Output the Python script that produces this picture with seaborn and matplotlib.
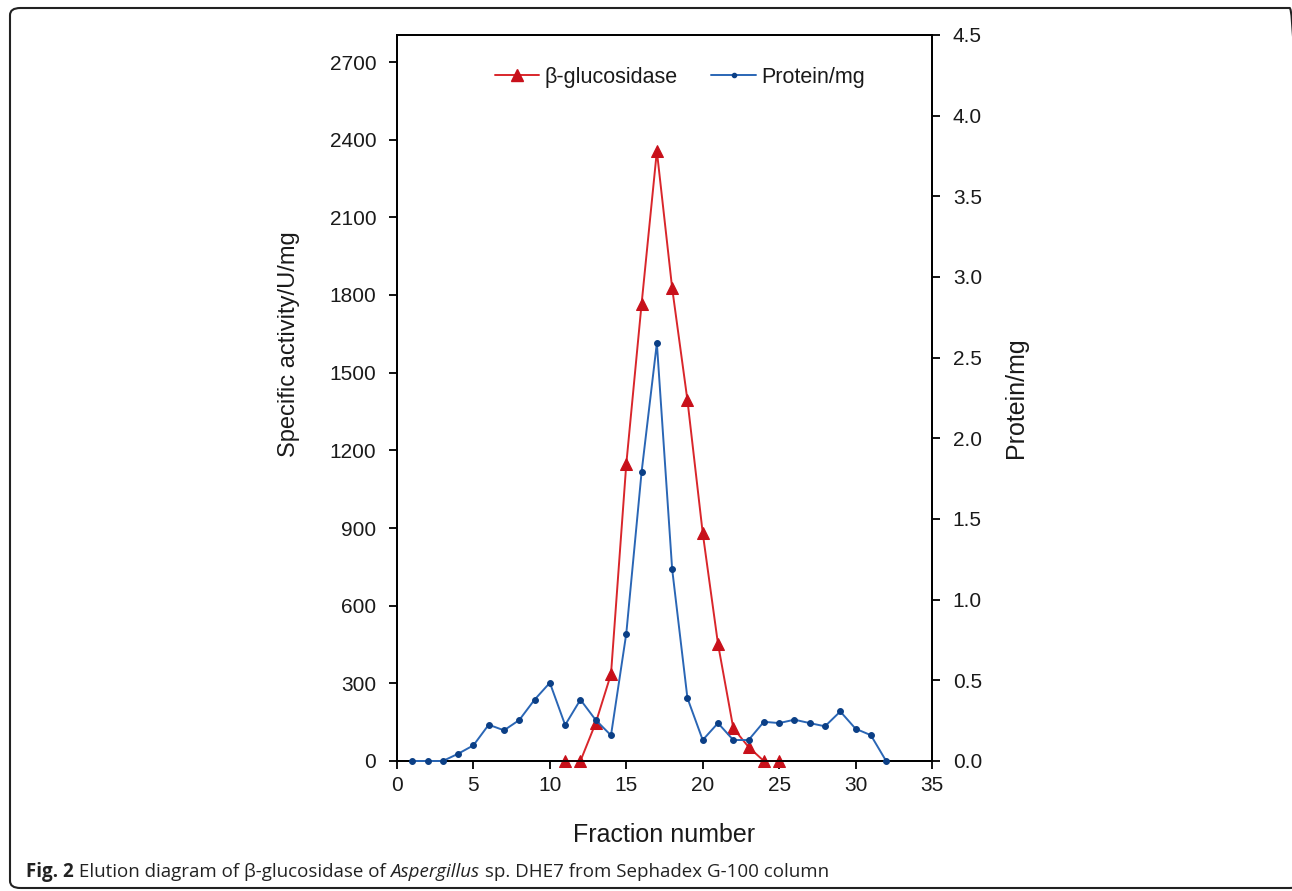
import matplotlib
matplotlib.use("Agg")
import matplotlib.pyplot as plt
from matplotlib.patches import FancyBboxPatch
from matplotlib.lines import Line2D
import seaborn as sns
import pandas as pd

# ---- data ----
gluc_fraction = [11, 12, 13, 14, 15, 16, 17, 18, 19, 20, 21, 22, 23, 24, 25]
gluc_activity = [0, 0, 147, 336, 1147, 1765, 2356, 1827, 1394, 881, 452, 127, 54, 0, 0]

prot_fraction = list(range(1, 33))
prot_mg = [0, 0, 0, 0.045, 0.097, 0.225, 0.19, 0.254, 0.38, 0.485, 0.223, 0.38,
           0.254, 0.159, 0.79, 1.79, 2.59, 1.19, 0.39, 0.13, 0.235, 0.13, 0.13,
           0.243, 0.235, 0.256, 0.235, 0.215, 0.307, 0.2, 0.16, 0]

left_ticks = [0, 300, 600, 900, 1200, 1500, 1800, 2100, 2400, 2700]
right_ticks = [0.0, 0.5, 1.0, 1.5, 2.0, 2.5, 3.0, 3.5, 4.0, 4.5]
x_ticks = [0, 5, 10, 15, 20, 25, 30, 35]

sns.set_theme(style="white")
plt.rcParams['font.family'] = ['Liberation Sans', 'DejaVu Sans']

RED = "#d9262b"
RED_M = "#c8101a"
BLUE = "#2a66b5"
BLUE_M = "#0b3f86"
TXT = "#1a1a1a"

W, H = 1292, 891
fig = plt.figure(figsize=(W / 100, H / 100), dpi=100)
ax = fig.add_axes([397/W, 1-761/H, 535/W, 726/H])
ax2 = ax.twinx()

df_g = pd.DataFrame({"x": gluc_fraction, "y": gluc_activity})
df_p = pd.DataFrame({"x": prot_fraction, "y": prot_mg})

sns.lineplot(data=df_g, x="x", y="y", ax=ax, color=RED, lw=1.4, marker="^",
             markersize=8.5, markerfacecolor=RED_M, markeredgecolor=RED_M, zorder=3)
sns.lineplot(data=df_p, x="x", y="y", ax=ax2, color=BLUE, lw=1.4, marker="o",
             markersize=4.2, markerfacecolor=BLUE_M, markeredgecolor=BLUE_M, zorder=3)
for a in (ax, ax2):
    for ln in a.get_lines():
        ln.set_clip_on(False)

ax.set_xlim(0, 35)
ax.set_ylim(0, 2700 * 726 / 699)
ax2.set_ylim(0, 4.5)
ax.set_xticks(x_ticks)
ax.set_yticks(left_ticks)
ax2.set_yticks(right_ticks)
ax2.set_yticklabels([f"{v:.1f}" for v in right_ticks])

for a in (ax, ax2):
    for s in a.spines.values():
        s.set_color("black")
        s.set_linewidth(1.3)
    a.tick_params(direction="out", length=6, width=1.3, labelsize=15, color="black",
                  labelcolor=TXT, pad=9)
ax.tick_params(left=True, bottom=True, right=False, top=False)
ax.tick_params(axis="x", pad=5)
ax2.tick_params(right=True, left=False)

ax.set_xlabel("Fraction number", fontsize=18, color=TXT)
ax.xaxis.set_label_coords(0.5, -(823 - 761) / 726)
ax.set_ylabel("Specific activity/U/mg", fontsize=17, color=TXT)
ax.yaxis.set_label_coords(-(397 - 300) / 535, (761 - 344) / 726)
ax2.set_ylabel("Protein/mg", fontsize=18, color=TXT)
ax2.yaxis.set_label_coords(1 + (1004 - 932) / 535, (761 - 398) / 726)

handles = [Line2D([], [], color=RED, lw=1.4, marker="^", markersize=8,
                  markerfacecolor=RED_M, markeredgecolor=RED_M),
           Line2D([], [], color=BLUE, lw=1.4, marker="o", markersize=3,
                  markerfacecolor=BLUE_M, markeredgecolor=BLUE_M)]
ax.legend(handles, ["β-glucosidase", "Protein/mg"], ncol=2, frameon=False,
          loc="upper center", bbox_to_anchor=((680 - 397) / 535, 0.983), fontsize=15.5,
          handlelength=2.07, handletextpad=0.25, columnspacing=1.55,
          labelcolor=TXT)

# border and caption
box = FancyBboxPatch((10/W, 1-888/H), 1290/W, 880/H,
                     boxstyle="round,pad=0,rounding_size=0.008",
                     transform=fig.transFigure, fill=False, ec="#222222", lw=1.5)
fig.patches.append(box)

cap_parts = [("Fig. 2", "bold", "normal"),
             (" Elution diagram of β-glucosidase of ", "normal", "normal"),
             ("Aspergillus", "normal", "italic"),
             (" sp. DHE7 from Sephadex G-100 column", "normal", "normal")]
fig.canvas.draw()
renderer = fig.canvas.get_renderer()
x_px = 26
for txt, wt, st in cap_parts:
    t = fig.text(x_px / W, 1 - 872 / H, txt, fontsize=13.5, fontweight=wt, style=st,
                 family=["Open Sans", "DejaVu Sans"], va="center", color="#222222")
    bb = t.get_window_extent(renderer=renderer)
    x_px += bb.width

fig.savefig("out.png", dpi=100)
